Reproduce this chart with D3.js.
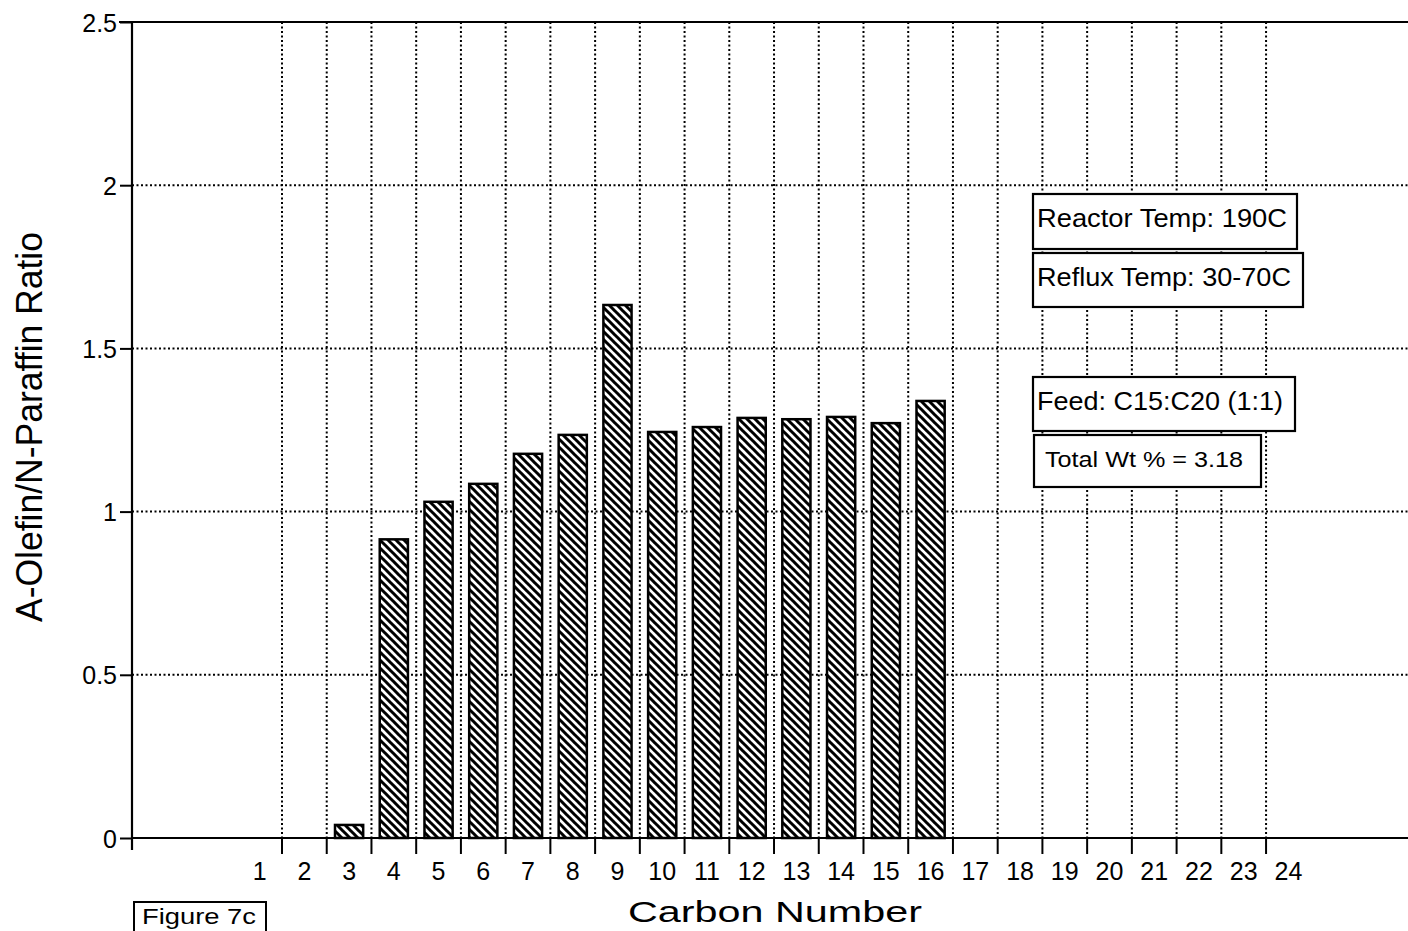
<!DOCTYPE html>
<html>
<head>
<meta charset="utf-8">
<script src="https://cdn.jsdelivr.net/npm/d3@7/dist/d3.min.js"></script>
<style>
  html, body { margin: 0; padding: 0; background: #fff; }
  svg { display: block; }
  text { font-family: "Liberation Sans", Arial, Helvetica, sans-serif; fill: #000; }
</style>
</head>
<body>
<svg id="chart" width="1408" height="931"></svg>
<script>
// ---- data ----
const categories = ["1","2","3","4","5","6","7","8","9","10","11","12","13","14","15","16","17","18","19","20","21","22","23","24"];
const ratioValues = [0, 0, 0.04, 0.915, 1.03, 1.085, 1.177, 1.235, 1.633, 1.244, 1.259, 1.287, 1.283, 1.290, 1.271, 1.339, 0, 0, 0, 0, 0, 0, 0, 0];
const yTicks = [0, 0.5, 1, 1.5, 2, 2.5];
const yTickLabels = ["0", "0.5", "1", "1.5", "2", "2.5"];
const yGridValues = [0.5, 1, 1.5, 2];
const xTitle = "Carbon Number";
const yTitle = "A-Olefin/N-Paraffin Ratio";
const noteLines = ["Reactor Temp: 190C", "Reflux Temp: 30-70C", "Feed: C15:C20 (1:1)", "Total Wt % = 3.18"];
const figureLabel = "Figure 7c";

// ---- layout ----
const svg = d3.select("#chart");
const axisX = 132, plotRight = 1408;
const y = d3.scaleLinear().domain([0, 2.5]).range([838, 22]);
const step = 44.73;
const x = d3.scaleBand().domain(categories)
  .range([282 - step, 282 - step + step * categories.length])
  .paddingInner(0.37).paddingOuter(0.185);
const gap = x.step() - x.bandwidth();
const boundary = c => x(c) - gap / 2;

// hatch pattern
const defs = svg.append("defs");
const P = 8;
const pat = defs.append("pattern").attr("id", "hatch")
  .attr("patternUnits", "userSpaceOnUse").attr("width", P).attr("height", P);
pat.append("rect").attr("width", P).attr("height", P).attr("fill", "#fff");
pat.append("path").attr("d", `M-1,-1 L${P+1},${P+1} M-1,${P-1} L1,${P+1} M${P-1},-1 L${P+1},1`)
  .attr("stroke", "#000").attr("stroke-width", 3);

// horizontal dotted gridlines
svg.append("g").selectAll("line").data(yGridValues).join("line")
  .attr("x1", axisX).attr("x2", plotRight)
  .attr("y1", d => y(d)).attr("y2", d => y(d))
  .attr("stroke", "#000").attr("stroke-width", 2).attr("stroke-dasharray", "2,2.5");

// vertical dotted gridlines at category boundaries (between 1|2 ... 23|24)
const boundaryCats = categories.slice(1);
svg.append("g").selectAll("line").data(boundaryCats).join("line")
  .attr("x1", d => boundary(d)).attr("x2", d => boundary(d))
  .attr("y1", y(2.5)).attr("y2", y(0))
  .attr("stroke", "#000").attr("stroke-width", 2).attr("stroke-dasharray", "2,2.5");

// top frame line
svg.append("line").attr("x1", axisX - 13).attr("x2", plotRight)
  .attr("y1", y(2.5)).attr("y2", y(2.5)).attr("stroke", "#000").attr("stroke-width", 2.2);

// bars
const barData = categories.map((c, i) => ({ c, v: ratioValues[i] })).filter(d => d.v > 0);
svg.append("g").selectAll("rect").data(barData).join("rect")
  .attr("x", d => x(d.c)).attr("width", x.bandwidth())
  .attr("y", d => y(d.v)).attr("height", d => y(0) - y(d.v))
  .attr("fill", "url(#hatch)").attr("stroke", "#000").attr("stroke-width", 2.5);

// y axis
const yAxis = d3.axisLeft(y).tickValues(yTicks).tickSize(12).tickPadding(3)
  .tickFormat((d, i) => yTickLabels[i]);
const gy = svg.append("g").attr("transform", `translate(${axisX},0)`).call(yAxis);
gy.select(".domain").remove();
gy.selectAll(".tick line").attr("stroke", "#000").attr("stroke-width", 2);
gy.selectAll(".tick text").style("font-size", "25px").attr("dy", "0.36em");
svg.append("line").attr("x1", axisX).attr("x2", axisX)
  .attr("y1", y(2.5)).attr("y2", y(0) + 12).attr("stroke", "#000").attr("stroke-width", 2.2);

// x axis line
svg.append("line").attr("x1", axisX).attr("x2", plotRight)
  .attr("y1", y(0)).attr("y2", y(0)).attr("stroke", "#000").attr("stroke-width", 2.2);
// x ticks at boundaries
svg.append("g").selectAll("line").data(boundaryCats).join("line")
  .attr("x1", d => boundary(d)).attr("x2", d => boundary(d))
  .attr("y1", y(0)).attr("y2", y(0) + 16)
  .attr("stroke", "#000").attr("stroke-width", 2);
// x labels
svg.append("g").selectAll("text").data(categories).join("text")
  .attr("x", d => x(d) + x.bandwidth() / 2).attr("y", 880)
  .attr("text-anchor", "middle").style("font-size", "25px").text(d => d);

// axis titles
svg.append("text").attr("x", 628).attr("y", 922)
  .attr("textLength", 294).attr("lengthAdjust", "spacingAndGlyphs")
  .style("font-size", "29px").text(xTitle);
svg.append("text").attr("transform", "translate(42,622) rotate(-90)")
  .attr("textLength", 390).attr("lengthAdjust", "spacingAndGlyphs")
  .style("font-size", "36px").text(yTitle);

// note boxes
const boxes = [
  { t: noteLines[0], x: 1033, y: 194, w: 264, h: 55, tx: 1037, ty: 227, tl: 250, fs: 25 },
  { t: noteLines[1], x: 1033, y: 253, w: 270, h: 54, tx: 1037, ty: 286, tl: 254, fs: 25 },
  { t: noteLines[2], x: 1033, y: 377, w: 262, h: 54, tx: 1037, ty: 410, tl: 246, fs: 25 },
  { t: noteLines[3], x: 1034, y: 435, w: 227, h: 52, tx: 1045, ty: 467, tl: 198, fs: 22 }
];
const gb = svg.append("g").selectAll("g").data(boxes).join("g");
gb.append("rect").attr("x", d => d.x).attr("y", d => d.y).attr("width", d => d.w).attr("height", d => d.h)
  .attr("fill", "#fff").attr("stroke", "#000").attr("stroke-width", 2.2);
gb.append("text").attr("x", d => d.tx).attr("y", d => d.ty)
  .attr("textLength", d => d.tl).attr("lengthAdjust", "spacingAndGlyphs")
  .style("font-size", d => d.fs + "px").text(d => d.t);

// figure label
svg.append("rect").attr("x", 134).attr("y", 902).attr("width", 132).attr("height", 50)
  .attr("fill", "#fff").attr("stroke", "#000").attr("stroke-width", 2);
svg.append("text").attr("x", 142).attr("y", 924)
  .attr("textLength", 114).attr("lengthAdjust", "spacingAndGlyphs")
  .style("font-size", "22px").text(figureLabel);
</script>
</body>
</html>
